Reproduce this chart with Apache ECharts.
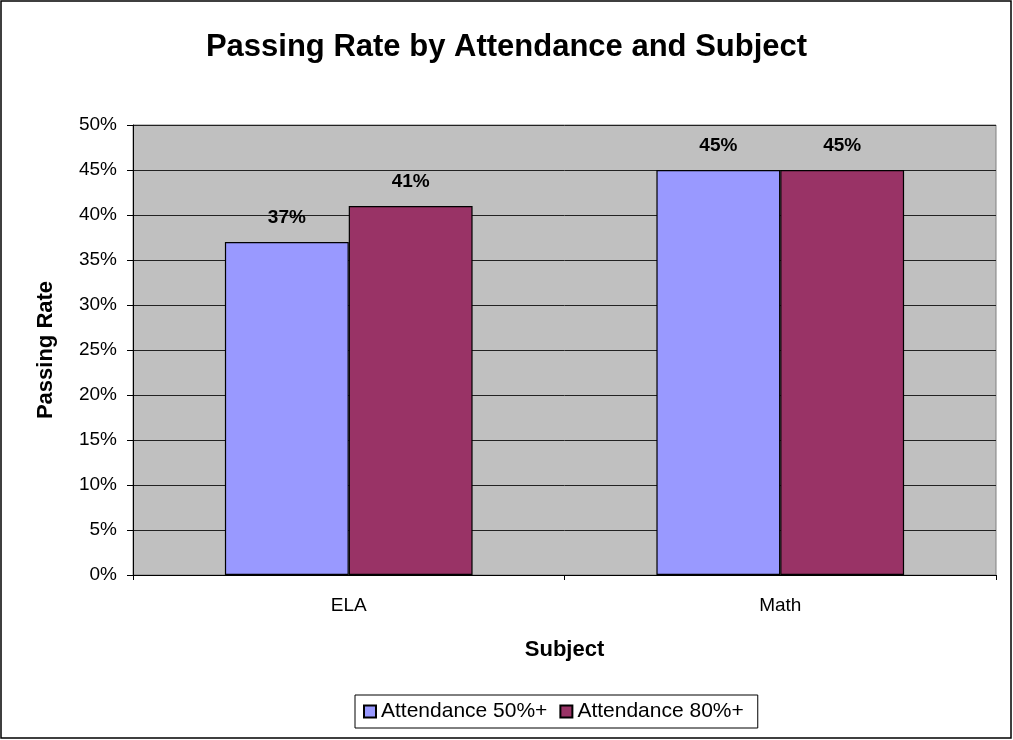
<!DOCTYPE html>
<html>
<head>
<meta charset="utf-8">
<script src="https://cdn.jsdelivr.net/npm/echarts@6/dist/echarts.min.js"></script>
<style>
  html, body { margin: 0; padding: 0; background: #fff; }
  #container { width: 1013px; height: 740px; }
</style>
</head>
<body>
<div id="container"></div>
<script>
var subjects = ['ELA', 'Math'];
var att50 = [0.37, 0.45];
var att80 = [0.41, 0.45];
var seriesNames = ['Attendance 50%+', 'Attendance 80%+'];

var font = '"Liberation Sans", Arial, sans-serif';
var myChart = echarts.init(document.getElementById('container'));

function pct(v) { return Math.round(v * 100) + '%'; }

var labelStyle = {
    show: true,
    position: 'top',
    distance: 15,
    fontFamily: font,
    fontWeight: 'bold',
    fontSize: 19,
    color: '#000',
    formatter: function (p) { return pct(p.value); }
};

var option = {
    animation: false,
    backgroundColor: '#fff',
    textStyle: { fontFamily: font },
    title: {
        text: 'Passing Rate by Attendance and Subject',
        left: 'center',
        top: 27,
        textStyle: { fontFamily: font, fontWeight: 'bold', fontSize: 31, color: '#000' }
    },
    graphic: [{
        type: 'rect',
        shape: { x: 1, y: 1, width: 1010, height: 737 },
        style: { fill: 'none', stroke: '#000', lineWidth: 1.5 },
        silent: true
    }],
    legend: {
        data: seriesNames,
        icon: 'rect',
        bottom: 12,
        left: 355,
        itemWidth: 12,
        itemHeight: 12,
        itemGap: 12,
        borderColor: '#000',
        borderWidth: 1,
        padding: [6, 14, 6, 8],
        textStyle: { fontFamily: font, fontSize: 21, color: '#000' }
    },
    grid: {
        left: 133,
        top: 125,
        right: 17,
        bottom: 165,
        show: true,
        backgroundColor: '#C0C0C0',
        borderColor: '#808080',
        borderWidth: 1
    },
    xAxis: {
        type: 'category',
        data: subjects,
        name: 'Subject',
        nameLocation: 'middle',
        nameGap: 64,
        nameTextStyle: { fontFamily: font, fontWeight: 'bold', fontSize: 22, color: '#000' },
        axisLine: { lineStyle: { color: '#000', width: 1 } },
        axisTick: { show: true, length: 5, lineStyle: { color: '#000' } },
        axisLabel: { fontFamily: font, fontSize: 19, color: '#000', margin: 21 }
    },
    yAxis: {
        type: 'value',
        min: 0,
        max: 0.5,
        interval: 0.05,
        name: 'Passing Rate',
        nameLocation: 'middle',
        nameGap: 76,
        nameTextStyle: { fontFamily: font, fontWeight: 'bold', fontSize: 22, color: '#000' },
        axisLine: { show: true, lineStyle: { color: '#000', width: 1 } },
        axisTick: { show: true, length: 6, lineStyle: { color: '#000' } },
        axisLabel: {
            fontFamily: font, fontSize: 19, color: '#000', margin: 16,
            formatter: function (v) { return pct(v); }
        },
        splitLine: { show: true, lineStyle: { color: '#222', width: 1 } }
    },
    series: [{
        name: seriesNames[0],
        type: 'bar',
        data: att50,
        barGap: '0%',
        barCategoryGap: '42.6%',
        itemStyle: { color: '#9999FF', borderColor: '#000', borderWidth: 1.2 },
        label: labelStyle
    }, {
        name: seriesNames[1],
        type: 'bar',
        data: att80,
        itemStyle: { color: '#993366', borderColor: '#000', borderWidth: 1.2 },
        label: labelStyle
    }]
};

myChart.setOption(option);
window.onresize = function () { myChart.resize(); };
</script>
</body>
</html>
